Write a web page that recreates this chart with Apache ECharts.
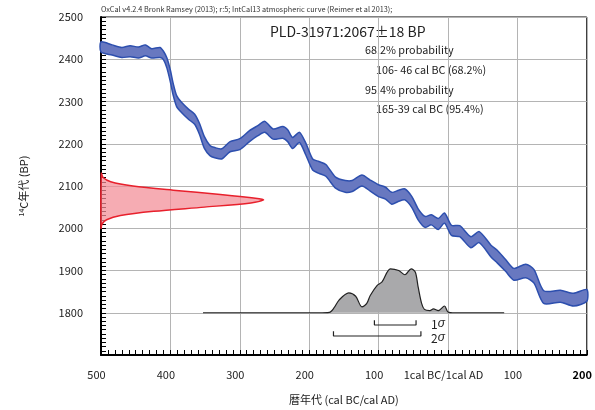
<!DOCTYPE html>
<html>
<head>
<meta charset="utf-8">
<script src="https://cdn.jsdelivr.net/npm/echarts@6/dist/echarts.min.js"></script>
<style>
    html,body{margin:0;padding:0;background:#fff;}
    #chart{width:595px;height:410px;}
</style>
</head>
<body>
<div id="chart"></div>
<script>
// IntCal13 curve (cal year, BP mean, BP half width)
const calYear = [-500,-484,-470,-458,-446,-436,-427,-415,-410,-405,-400,-396,-391,-384,-374,-365,-358,-351,-343,-336,-326,-314,-300,-286,-274,-264,-252,-238,-231,-224,-214,-205,-195,-186,-176,-162,-148,-138,-124,-112,-100,-90,-81,-71,-62,-52,-43,-33,-24,-14,-5,5,17,33,45,62,71,83,95,112,124,138,162,181,200]
const curveMid = [2429,2422,2416,2419,2416,2421,2414,2416,2409,2391,2360,2329,2301,2286,2270,2258,2235,2203,2184,2179,2176,2193,2199,2218,2231,2240,2223,2227,2219,2202,2215,2188,2151,2144,2137,2108,2099,2100,2113,2101,2089,2083,2071,2077,2080,2062,2033,2015,2020,2010,2024,1995,1993,1967,1979,1946,1933,1912,1891,1899,1886,1837,1839,1831,1841]
const curveErr = [12,12,12,13,13,13,11,12,10,12,14,14,13,12,12,12,13,14,12,12,12,12,13,13,12,13,12,14,14,13,12,14,13,14,14,13,14,13,13,13,14,14,14,13,13,13,13,13,12,13,12,12,13,13,13,14,15,14,14,16,16,15,14,15,14]

// measured date 2067±18 BP, drawn along the y axis (width in years from the left edge)
const dateBP = [2130,2120,2110,2100,2090,2080,2070,2067,2060,2050,2040,2030,2020,2010,2000]
const dateWidth = [0.5,3,14,46,104,172,228,234,216,149,76,28,8,1.5,0]

// calibrated probability (height in BP units above the 1800 baseline)
const probYear = [-353,-186,-171,-164,-157,-143,-133,-124,-117,-112,-102,-95,-83,-71,-62,-53,-47,-43,-38,-34,-26,-21,-14,-5,0,10,81]
const probHeight = [0,0,1,12,30,47,39,14,22,41,65,73,104,100,90,104,96,61,22,8,5,9,5,16,2,0,0]

const sigma1 = [-106,-46]
const sigma2 = [-165,-39]

const labelFont = 'Noto Sans CJK JP'

function bandPoints(api){
    const top = calYear.map((y,i)=>api.coord([y,curveMid[i]+curveErr[i]]))
    const bottom = calYear.map((y,i)=>api.coord([y,curveMid[i]-curveErr[i]])).reverse()
    return top.concat(bottom)
}

function datePoints(api){
    return dateBP.map((b,i)=>api.coord([-500+dateWidth[i],b]))
}

const myChart = echarts.init(document.getElementById('chart'))
myChart.setOption({
    animation:false,
    textStyle:{fontFamily:labelFont},
    grid:{
        left:101,
        right:6,
        top:17,
        bottom:53,
        show:true,
        borderColor:'#000',
        borderWidth:1
    },
    xAxis:{
        type:'value',
        min:-500,
        max:200,
        interval:100,
        name:'暦年代 (cal BC/cal AD)',
        nameLocation:'middle',
        nameGap:39,
        nameTextStyle:{fontSize:11,color:'#222'},
        axisLine:{onZero:false,lineStyle:{color:'#000',width:2}},
        axisTick:{inside:true,length:5,lineStyle:{color:'#000'}},
        minorTick:{show:true,splitNumber:10,length:5,lineStyle:{color:'#000'}},
        splitLine:{show:true,lineStyle:{color:'#b4b4b4',width:1}},
        axisLabel:{
            margin:14,
            fontSize:11,
            color:'#222',
            padding:[0,9,0,0],
            formatter:function(v){
                if(v===0) return '1cal BC/1cal AD'
                if(v===200) return '{b|200}'
                return Math.abs(v)+''
            },
            rich:{b:{fontWeight:'bold',fontSize:11,color:'#000'}}
        }
    },
    yAxis:{
        type:'value',
        min:1700,
        max:2500,
        interval:100,
        name:'{s|14}C年代 (BP)',
        nameLocation:'middle',
        nameGap:72,
        nameRotate:90,
        nameTextStyle:{
            fontSize:11,
            color:'#222',
            rich:{s:{fontSize:7,verticalAlign:'top',color:'#222'}}
        },
        axisLine:{onZero:false,lineStyle:{color:'#000',width:2}},
        axisTick:{inside:true,length:5,lineStyle:{color:'#000'}},
        minorTick:{show:true,splitNumber:10,length:5,lineStyle:{color:'#000'}},
        splitLine:{show:true,lineStyle:{color:'#b4b4b4',width:1}},
        axisLabel:{
            margin:18,
            fontSize:11,
            color:'#222',
            formatter:function(v){return v===1700?'':v+''}
        }
    },
    graphic:[
        {type:'text',left:101,top:6,style:{text:'OxCal v4.2.4 Bronk Ramsey (2013); r:5; IntCal13 atmospheric curve (Reimer et al 2013);',fontSize:7.3,fill:'#333',fontFamily:labelFont}},
        {type:'text',left:270,top:25,style:{text:'PLD-31971:2067±18 BP',fontSize:14,fill:'#222',fontFamily:labelFont}},
        {type:'text',left:365,top:45,style:{text:'68.2% probability',fontSize:10.8,fill:'#222',fontFamily:labelFont}},
        {type:'text',left:376,top:65,style:{text:'106- 46 cal BC (68.2%)',fontSize:10.8,fill:'#222',fontFamily:labelFont}},
        {type:'text',left:365,top:85,style:{text:'95.4% probability',fontSize:10.8,fill:'#222',fontFamily:labelFont}},
        {type:'text',left:376,top:104,style:{text:'165-39 cal BC (95.4%)',fontSize:10.8,fill:'#222',fontFamily:labelFont}},
        {type:'text',left:431,top:318,style:{text:'1{i|σ}',fontSize:12,fill:'#222',fontFamily:labelFont,rich:{i:{fontStyle:'italic',fontSize:12,fill:'#222'}}}},
        {type:'text',left:431,top:332,style:{text:'2{i|σ}',fontSize:12,fill:'#222',fontFamily:labelFont,rich:{i:{fontStyle:'italic',fontSize:12,fill:'#222'}}}}
    ],
    series:[
        {
            name:'curve',
            type:'custom',
            coordinateSystem:'cartesian2d',
            data:[[calYear[0],curveMid[0]]],
            z:3,
            renderItem:function(params,api){
                return {
                    type:'polygon',
                    shape:{points:bandPoints(api),smooth:0.25},
                    style:{fill:'#6878c0',stroke:'#2d4fae',lineWidth:1.5}
                }
            }
        },
        {
            name:'date',
            type:'custom',
            coordinateSystem:'cartesian2d',
            data:[[-500,dateBP[0]]],
            z:3,
            renderItem:function(params,api){
                return {
                    type:'polygon',
                    shape:{points:datePoints(api),smooth:0.3},
                    style:{fill:'rgba(243,140,150,0.72)',stroke:'#e8202c',lineWidth:1.5}
                }
            }
        },
        {
            name:'prob',
            type:'line',
            data:probYear.map((y,i)=>[y,1800+probHeight[i]]),
            smooth:0.3,
            showSymbol:false,
            lineStyle:{color:'#222',width:1.2},
            areaStyle:{color:'#a9a9ab',opacity:1,origin:1800},
            z:4
        },
        {
            name:'1sigma',
            type:'line',
            data:[[sigma1[0],1782],[sigma1[0],1771],[sigma1[1],1771],[sigma1[1],1782]],
            showSymbol:false,
            lineStyle:{color:'#222',width:1.2},
            z:4
        },
        {
            name:'2sigma',
            type:'line',
            data:[[sigma2[0],1756],[sigma2[0],1745],[sigma2[1],1745],[sigma2[1],1756]],
            showSymbol:false,
            lineStyle:{color:'#222',width:1.2},
            z:4
        }
    ]
})
</script>
</body>
</html>
